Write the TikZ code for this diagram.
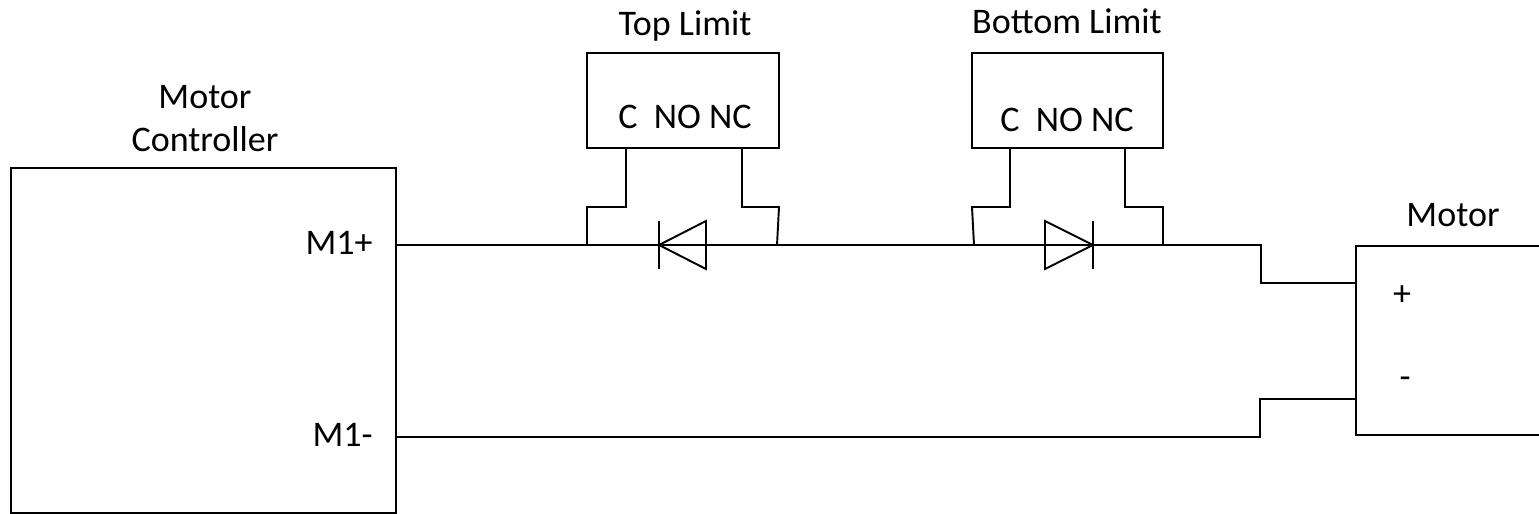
\documentclass[tikz,border=0pt]{standalone}
\usepackage{fontspec}
\setmainfont{Carlito}

\tikzset{
  box/.style={draw, line width=1.1pt, inner sep=0pt},
  wire/.style={line width=1.1pt},
  lbl/.style={font=\fontsize{20.5}{25}\selectfont, inner sep=0pt, anchor=base},
}

\begin{document}
\begin{tikzpicture}
  \useasboundingbox (0,0) rectangle (30.78,10.28);

  %% motor controller
  \node[box, minimum width=7.70cm, minimum height=6.90cm] (ctrl) at (4.07,3.47) {};
  \node[lbl, align=center] (ctrllbl) at (4.10,7.24) {Motor\\Controller};
  \node[lbl, anchor=base east] (mplus) at (7.46,5.18) {M1+};
  \node[lbl, anchor=base east] (mminus) at (7.46,1.34) {M1-};

  %% limit switches
  \node[box, minimum width=3.84cm, minimum height=1.90cm] (topsw) at (13.66,8.27) {};
  \node[box, minimum width=3.82cm, minimum height=1.90cm] (botsw) at (21.35,8.27) {};
  \node[lbl] (toplbl) at (13.70,9.56) {Top Limit};
  \node[lbl] (botlbl) at (21.34,9.60) {Bottom Limit};
  \node[lbl] (toppins) at (13.70,7.70) {C~~NO NC};
  \node[lbl] (botpins) at (21.34,7.65) {C~~NO NC};

  %% motor
  \node[box, minimum width=4.48cm, minimum height=3.78cm] (motor) at (29.36,3.47) {};
  \node[lbl] (motorlbl) at (29.06,5.74) {Motor};
  \node[lbl] (plus) at (28.04,4.16) {+};
  \node[lbl] (minus) at (28.10,2.50) {-};

  %% terminals
  \coordinate (pout) at (ctrl.east |- 0,5.38);
  \coordinate (nout) at (ctrl.east |- 0,1.54);
  \coordinate (pin) at (motor.west |- 0,4.62);
  \coordinate (nin) at (motor.west |- 0,2.30);

  %% wires
  \draw[wire] (pout) -- (25.22,5.38) |- (pin);
  \draw[wire] (nout) -- (25.20,1.54) |- (nin);

  %% top limit leads
  \draw[wire] (topsw.south -| 12.52,0) -- (12.52,6.14) -- (11.74,6.14) -- (11.74,5.38);
  \draw[wire] (topsw.south -| 14.84,0) -- (14.84,6.14) -- (15.58,6.14) -- (15.54,5.38);

  %% bottom limit leads
  \draw[wire] (botsw.south -| 20.20,0) -- (20.20,6.14) -- (19.44,6.14) -- (19.48,5.38);
  \draw[wire] (botsw.south -| 22.50,0) -- (22.50,6.14) -- (23.26,6.14) -- (23.26,5.38);

  %% diodes
  \coordinate (d1) at (13.18,5.38);
  \coordinate (d2) at (21.86,5.38);
  \draw[wire] (d1) -- ++(0.94,0.48) -- ++(0,-0.96) -- cycle;
  \draw[wire] (d1) ++(0,0.48) -- ++(0,-0.96);
  \draw[wire] (d2) -- ++(-0.96,0.48) -- ++(0,-0.96) -- cycle;
  \draw[wire] (d2) ++(0,0.48) -- ++(0,-0.96);

\end{tikzpicture}
\end{document}
